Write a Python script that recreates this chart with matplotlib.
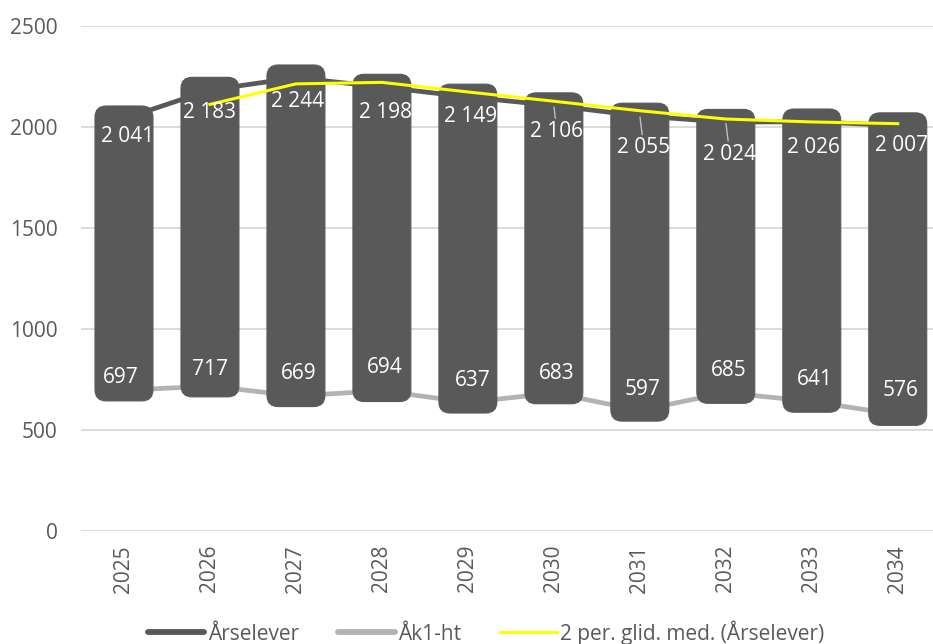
import matplotlib
matplotlib.use("Agg")
import matplotlib.pyplot as plt
from matplotlib.patches import FancyBboxPatch
from matplotlib.lines import Line2D
import numpy as np

years = ["2025", "2026", "2027", "2028", "2029", "2030", "2031", "2032", "2033", "2034"]
arselever = [2041, 2183, 2244, 2198, 2149, 2106, 2055, 2024, 2026, 2007]
ak1_ht = [697, 717, 669, 694, 637, 683, 597, 685, 641, 576]

# where the data labels were dragged to (pixels from the point)
ars_dx = [4, 0, 2, 4, 3, 3, 4, 4, 2, 4]
ars_dy = [-18, -22, -24, -25, -20, -26, -32, -32, -26, -20]
ak1_dx = [-3, 0, 3, 3, 5, 3, 3, 3, 3, 3]
ak1_dy = [13, 17, 22, 23, 22, 20, 21, 22, 22, 24]
ars_leader = [False, False, False, False, False, True, True, True, False, False]

plt.rcParams['font.family'] = ['Open Sans', 'DejaVu Sans']

DARK = '#595959'
LIGHT = '#b3b3b3'
FS = 15

fig = plt.figure(figsize=(9.33, 6.44), dpi=100)
W, H = 933, 644
ax = fig.add_axes([81 / W, 113 / H, 852 / W, 505 / H])
ax.set_xlim(-0.5, 9.41)
ax.set_ylim(0, 2500)

x = np.arange(len(years))
# 2 period moving average of Årselever (Excel trendline)
ma = [(a + b) / 2 for a, b in zip(arselever[:-1], arselever[1:])]

ax.plot(x, arselever, color=DARK, lw=3.4, zorder=2)
ax.plot(x, ak1_ht, color=LIGHT, lw=3.4, zorder=2)

# label boxes, one tall rounded box per year covering both labels
px_x = 9.91 / 852
px_y = 2500 / 505
aspect = px_y / px_x
for i in range(len(years)):
    y0 = ak1_ht[i] - 53
    y1 = arselever[i] + 63
    box = FancyBboxPatch((x[i] - 0.337, y0), 0.674, y1 - y0,
                         boxstyle="round,pad=0,rounding_size=0.13",
                         mutation_aspect=aspect, fc=DARK, ec=DARK, lw=0.8, zorder=3)
    ax.add_patch(box)

ax.plot(x[1:], ma, color='#ffff00', lw=2.2, zorder=4)

for i in range(len(years)):
    lab = f"{arselever[i] // 1000} {arselever[i] % 1000:03d}"
    arrow = None
    if ars_leader[i]:
        arrow = dict(arrowstyle='-', color='#bfbfbf', lw=1.0, shrinkA=0, shrinkB=1)
    ax.annotate(lab, (x[i], arselever[i]), xytext=(ars_dx[i], ars_dy[i]),
                textcoords='offset pixels', ha='center', va='center',
                color='white', fontsize=FS, zorder=5, arrowprops=arrow)
    ax.annotate(str(ak1_ht[i]), (x[i], ak1_ht[i]), xytext=(ak1_dx[i], ak1_dy[i]),
                textcoords='offset pixels', ha='center', va='center',
                color='white', fontsize=FS, zorder=5)

ax.set_xticks(x, years, rotation=90)
ax.set_yticks([0, 500, 1000, 1500, 2000, 2500])
ax.tick_params(axis='y', length=0, colors=DARK, labelsize=FS, pad=17)
ax.tick_params(axis='x', length=0, colors=DARK, labelsize=FS, pad=10)
ax.yaxis.grid(True, color='#d9d9d9', lw=1.3)
ax.set_axisbelow(True)
for s in ax.spines.values():
    s.set_visible(False)

handles = [Line2D([], [], color=DARK, lw=4.2, solid_capstyle='round'),
           Line2D([], [], color=LIGHT, lw=4.2, solid_capstyle='round'),
           Line2D([], [], color='#ffff00', lw=2.2)]
labels = ["Årselever", "Åk1-ht", "2 per. glid. med. (Årselever)"]
fig.legend(handles, labels, loc='center', bbox_to_anchor=(0.521, 0.018), ncol=3,
           frameon=False, fontsize=FS, handlelength=2.7, handletextpad=0.15,
           columnspacing=1.9, labelcolor=DARK)

fig.savefig("out.png", dpi=100)
